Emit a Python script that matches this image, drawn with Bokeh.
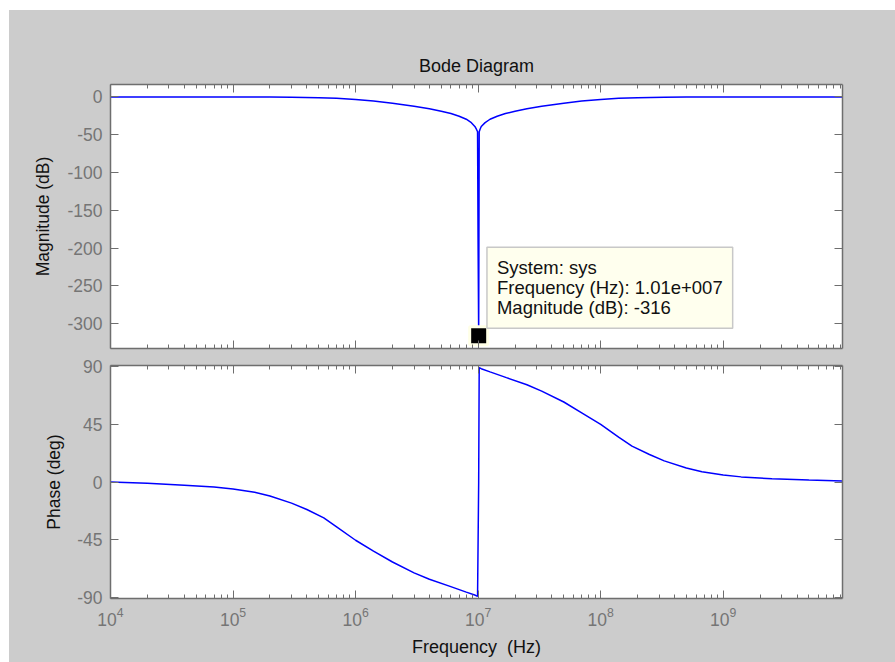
from bokeh.plotting import figure
from bokeh.models import LogAxis, LinearAxis, FixedTicker, Range1d, Label, Spacer
from bokeh.layouts import column, row
from bokeh.embed import file_html
from bokeh.resources import INLINE

# Magnitude response of the notch system (frequency in Hz, magnitude in dB)
mag_freq_hz = [1.0e4, 1.0e5, 2.0e5, 3.0e5, 5.0e5, 7.0e5, 1.0e6, 1.4e6, 2.0e6,
               3.0e6, 4.0e6, 5.0e6, 6.0e6, 7.0e6, 8.0e6, 8.8e6, 9.4e6, 9.7e6,
               9.89e6, 9.98e6, 1.01e7, 1.02e7, 1.035e7, 1.06e7, 1.14e7,
               1.25e7, 1.43e7, 1.67e7, 2.0e7, 2.5e7, 3.3e7, 5.0e7, 7.0e7,
               1.0e8, 1.4e8, 2.0e8, 3.3e8, 5.0e8, 1.0e9, 9.4e9]
mag_db = [0.0, 0.0, -0.2, -0.4, -1.0, -1.8, -3.2, -5.5, -8.3,
          -12.2, -15.5, -18.8, -22.0, -25.5, -29.5, -34.0, -39.0, -43.0,
          -46.0, -183.0, -316.0, -46.0, -43.0, -39.0, -34.0,
          -29.5, -25.5, -22.0, -18.8, -15.5, -12.2, -8.3, -5.5,
          -3.2, -1.8, -1.0, -0.4, -0.2, 0.0, 0.0]

# Phase response (frequency in Hz, phase in degrees)
phase_freq_hz = [1.0e4, 2.0e4, 4.0e4, 7.0e4, 1.0e5, 1.5e5, 2.0e5, 3.0e5, 4.0e5,
                 5.5e5, 7.0e5, 1.0e6, 1.4e6, 2.0e6, 3.0e6, 4.0e6, 5.9e6, 8.0e6,
                 9.5e6, 9.89e6, 1.01e7, 1.02e7, 1.06e7, 1.25e7, 1.7e7, 2.5e7,
                 3.3e7, 5.0e7, 7.0e7, 1.0e8, 1.4e8, 1.8e8, 2.5e8, 3.3e8, 5.0e8,
                 6.7e8, 1.0e9, 1.4e9, 2.5e9, 5.0e9, 9.4e9]
phase_deg = [0.0, -1.0, -2.5, -4.0, -5.5, -8.0, -11.0, -16.5, -21.5,
             -28.0, -35.0, -45.5, -54.0, -62.5, -71.0, -76.0, -81.5, -86.0,
             -88.5, -89.4, 0.0, 89.4, 88.5, 86.0, 81.5, 76.0,
             71.0, 62.5, 54.0, 45.0, 35.0, 28.0, 21.5, 16.5, 11.0,
             8.0, 5.5, 4.0, 2.5, 1.5, 0.8]

# Data tip on the deepest point of the notch
tip_freq_hz = 1.01e7
tip_mag_db = -316.0
tip_box_freq_hz = 1.18e7
tip_box_top_db = -199.0

decade_ticks = [1e4, 1e5, 1e6, 1e7, 1e8, 1e9]
minor_log_ticks = [m * d for d in decade_ticks for m in range(2, 10)]
mag_ticks = [-300, -250, -200, -150, -100, -50, 0]
mag_tick_labels = ["-300", "-250", "-200", "-150", "-100", "-50", "0"]
phase_ticks = [-90, -45, 0, 45, 90]
phase_tick_labels = ["-90", "-45", "0", "45", "90"]

FONT = "Liberation Sans"
AXIS_GREY = "#6e6e6e"
TICK_TEXT = "#757575"
BG = "#cccccc"
BLUE = "#0000ff"

x_range = Range1d(1e4, 9.4e9)


def style_axis(ax, labelled):
    ax.axis_line_color = AXIS_GREY
    ax.axis_line_width = 1.5
    ax.major_tick_line_color = AXIS_GREY
    ax.minor_tick_line_color = AXIS_GREY
    ax.major_tick_in = 8
    ax.major_tick_out = 0
    ax.minor_tick_in = 4
    ax.minor_tick_out = 0
    ax.major_label_text_font = FONT
    ax.major_label_text_color = TICK_TEXT
    ax.axis_label_text_font = FONT
    ax.axis_label_text_color = "#111111"
    ax.axis_label_text_font_style = "normal"
    ax.axis_label_text_font_size = "17.5px"
    if labelled:
        ax.major_label_text_font_size = "17.5px"
        ax.major_label_text_alpha = 1.0
    else:
        # tick marks only: labels kept tiny and invisible
        ax.major_label_text_font_size = "1px"
        ax.major_label_text_alpha = 0
        ax.major_label_standoff = 0
        ax.axis_label = None


def make_panel(height, y_range, y_ticks, y_labels, border_top, border_bottom):
    p = figure(width=886, height=height, x_axis_type="log",
               x_range=x_range, y_range=y_range,
               output_backend="svg", toolbar_location=None,
               min_border_left=101, min_border_right=53,
               min_border_top=border_top, min_border_bottom=border_bottom,
               background_fill_color="white", border_fill_color=BG,
               outline_line_color=None)
    p.grid.visible = False
    x_ticker = FixedTicker(ticks=decade_ticks, minor_ticks=minor_log_ticks)
    y_ticker = FixedTicker(ticks=y_ticks, minor_ticks=[])
    p.add_layout(LogAxis(ticker=x_ticker), "above")
    p.add_layout(LinearAxis(ticker=y_ticker), "right")
    bottom, top = p.below[0], p.above[0]
    left, right = p.left[0], p.right[0]
    bottom.ticker = x_ticker
    left.ticker = y_ticker
    style_axis(top, False)
    style_axis(right, False)
    style_axis(left, True)
    left.major_label_overrides = dict(zip(y_ticks, y_labels))
    left.major_label_standoff = 8
    return p, bottom, left


# Magnitude panel
p_mag, mag_bottom, mag_left = make_panel(346, Range1d(-333, 16.5), mag_ticks,
                                         mag_tick_labels, 74, 8)
style_axis(mag_bottom, False)
p_mag.title.text = "Bode Diagram"
p_mag.title.align = "center"
p_mag.title.text_font = FONT
p_mag.title.text_font_size = "18px"
p_mag.title.text_font_style = "normal"
p_mag.title.text_color = "#111111"
p_mag.title.standoff = 18
mag_left.axis_label = "Magnitude (dB)"
mag_left.axis_label_standoff = 11
p_mag.line(mag_freq_hz, mag_db, line_color=BLUE, line_width=1.5)

freq_text = "{:.2e}".format(tip_freq_hz)
mant, expo = freq_text.split("e")
freq_text = "{}e{}{:03d}".format(mant, expo[0], abs(int(expo)))
tip = Label(x=tip_box_freq_hz, y=tip_box_top_db,
            text="System: sys\nFrequency (Hz): {}\nMagnitude (dB): {:.0f}".format(freq_text, tip_mag_db),
            text_font=FONT, text_font_size="18.5px", text_color="#111111",
            text_line_height=0.95, text_align="left", text_baseline="top",
            padding=10,
            background_fill_color="#ffffee", border_line_color="#c8c8c8",
            border_line_width=1.5)
p_mag.add_layout(tip)
p_mag.scatter([tip_freq_hz], [tip_mag_db], marker="square", size=18,
              fill_color="black", line_color="#ffffe6", line_width=3)

# Phase panel
p_phase, ph_bottom, ph_left = make_panel(306, Range1d(-91, 91), phase_ticks,
                                         phase_tick_labels, 9, 64)
ph_left.axis_label = "Phase (deg)"
ph_left.axis_label_standoff = 10
style_axis(ph_bottom, True)
ph_bottom.major_label_standoff = 8
ph_bottom.axis_label = "Frequency \u00a0(Hz)"
ph_bottom.axis_label_text_font_size = "18px"
ph_bottom.axis_label_standoff = 8
p_phase.line(phase_freq_hz, phase_deg, line_color=BLUE, line_width=1.5)

panels = column(p_mag, p_phase, styles={"background-color": BG})
layout = column(Spacer(height=10), row(Spacer(width=9), panels))

with open("out.html", "w") as f:
    f.write(file_html(layout, INLINE, title="Bode Diagram"))
